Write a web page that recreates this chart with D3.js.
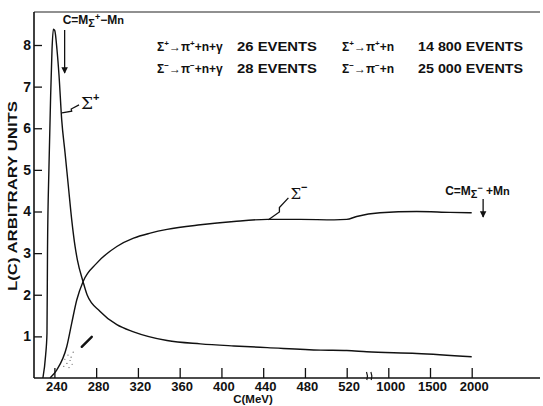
<!DOCTYPE html>
<html><head><meta charset="utf-8">
<script src="https://cdn.jsdelivr.net/npm/d3@7"></script>
<style>
body{margin:0;background:#fff}
svg{display:block}
text{font-family:"Liberation Sans",Arial,sans-serif;font-weight:bold;fill:#111}
</style>
</head><body>
<svg id="chart" width="543" height="406"></svg>
<script>
// ---------- data ----------
const xTicks = [240, 280, 320, 360, 400, 440, 480, 520, 1000, 1500, 2000];
const yTicks = [1, 2, 3, 4, 5, 6, 7, 8];

// Sigma+ curve  (C in MeV, L in arbitrary units)
const sigmaPlusC = [229, 231.6, 232.9, 233.4, 234.8, 236.3, 237.7, 239.0, 240.3, 242.5, 244.4, 247.0, 250.2, 253.4, 256.6, 259.8, 262.0, 267.5, 271.3, 283.8, 299.8, 315.8, 347.9, 379.9, 411.9, 443.9, 495, 520, 751, 1341, 2000];
const sigmaPlusL = [0, 0.55, 1.08, 3.08, 5.07, 6.68, 7.88, 8.38, 8.35, 7.88, 7.28, 6.2, 5.41, 4.6, 3.8, 3.16, 2.84, 2.31, 2.0, 1.6, 1.28, 1.11, 0.9, 0.82, 0.77, 0.73, 0.67, 0.66, 0.63, 0.59, 0.51];

// Sigma- curve
const sigmaMinusC = [235.8, 242.2, 251.8, 256.6, 261.4, 267.5, 280.6, 299.8, 315.8, 331.8, 347.9, 379.9, 411.9, 443.9, 475.4, 507.9, 520, 635, 904, 1341, 1740, 2000];
const sigmaMinusL = [0, 0.19, 0.75, 1.32, 1.875, 2.32, 2.76, 3.16, 3.36, 3.48, 3.57, 3.68, 3.76, 3.81, 3.81, 3.80, 3.81, 3.88, 3.97, 4.0, 3.98, 3.97];

// legend rows
const legendDecay = [["Σ", "+", "→π", "+", "+n+γ"], ["Σ", "−", "→π", "−", "+n+γ"]];
const legendRadEvents = ["26 EVENTS", "28 EVENTS"];
const legendMainDecay = [["Σ", "+", "→π", "+", "+n"], ["Σ", "−", "→π", "−", "+n"]];
const legendMainEvents = ["14 800 EVENTS", "25 000 EVENTS"];

// thresholds (MeV)
const thresholdPlus = 249.8;   // M(Σ+) − M(n)
const thresholdMinus = 2137;   // M(Σ−) + M(n)

// small hand marks near the origin (C, L)
const dashMarkC = [266.2, 275.8], dashMarkL = [0.75, 0.99];
const dotMarkC = [250, 253, 256, 252, 255, 258, 249, 254, 257];
const dotMarkL = [0.45, 0.55, 0.5, 0.35, 0.42, 0.62, 0.28, 0.25, 0.33];

// ---------- scales ----------
const svg = d3.select("#chart");
const x = d3.scaleLinear().domain([240, 520, 1000, 2000]).range([54.4, 346.7, 388.3, 471.7]);
const y = d3.scaleLinear().domain([0, 8]).range([378, 45]);
const xLeft = 34, xRight = 540, yTop = 12;

// frame
svg.append("line").attr("x1", xLeft).attr("x2", xRight).attr("y1", yTop).attr("y2", yTop)
  .attr("stroke", "#222").attr("stroke-width", 1.2);
svg.append("line").attr("x1", xLeft).attr("x2", xLeft).attr("y1", yTop).attr("y2", y(0))
  .attr("stroke", "#111").attr("stroke-width", 1.6);
svg.append("line").attr("x1", xLeft).attr("x2", xRight).attr("y1", y(0)).attr("y2", y(0))
  .attr("stroke", "#111").attr("stroke-width", 1.6);

// x axis
const gx = svg.append("g").attr("transform", `translate(0,${y(0)})`)
  .call(d3.axisBottom(x).tickValues(xTicks).tickFormat(d3.format("d")).tickSizeInner(-10).tickSizeOuter(0).tickPadding(4));
gx.select(".domain").remove();
gx.selectAll(".tick line").attr("stroke", "#111").attr("stroke-width", 1.3);
gx.selectAll(".tick text").attr("font-size", 13).attr("dx", 2).attr("fill", "#111")
  .style("font-family", '"Liberation Sans",Arial,sans-serif').style("font-weight", "bold");

// axis break marks
const brk = (x(520) + x(1000)) / 2 + 2;
[-2.2, 2.2].forEach(o => {
  svg.append("path").attr("d", `M${brk + o - 0.8},${y(0) - 6} Q${brk + o + 1},${y(0) - 2} ${brk + o - 0.5},${y(0) + 2}`)
    .attr("fill", "none").attr("stroke", "#111").attr("stroke-width", 1.2);
});

// y axis
const gy = svg.append("g").attr("transform", `translate(${xLeft},0)`)
  .call(d3.axisLeft(y).tickValues(yTicks).tickFormat(d3.format("d")).tickSizeInner(-8).tickSizeOuter(0).tickPadding(3));
gy.select(".domain").remove();
gy.selectAll(".tick line").attr("stroke", "#111").attr("stroke-width", 1.3);
gy.selectAll(".tick text").attr("font-size", 14).attr("fill", "#111")
  .style("font-family", '"Liberation Sans",Arial,sans-serif').style("font-weight", "bold");

// axis titles
svg.append("text").attr("x", 253).attr("y", 402.5).attr("text-anchor", "middle")
  .attr("font-size", 11.5).text("C(MeV)");
svg.append("text").attr("transform", "translate(17,196) rotate(-90)").attr("text-anchor", "middle")
  .attr("font-size", 13).attr("textLength", 190).attr("lengthAdjust", "spacingAndGlyphs")
  .text("L(C) ARBITRARY UNITS");

// curves
const line = d3.line().x(d => x(d[0])).y(d => y(d[1])).curve(d3.curveMonotoneX);
svg.append("path").datum(d3.zip(sigmaPlusC, sigmaPlusL)).attr("d", line)
  .attr("fill", "none").attr("stroke", "#111").attr("stroke-width", 1.4);
svg.append("path").datum(d3.zip(sigmaMinusC, sigmaMinusL)).attr("d", line)
  .attr("fill", "none").attr("stroke", "#111").attr("stroke-width", 1.4);

// hand marks
svg.append("line").attr("x1", x(dashMarkC[0])).attr("y1", y(dashMarkL[0]))
  .attr("x2", x(dashMarkC[1])).attr("y2", y(dashMarkL[1]))
  .attr("stroke", "#111").attr("stroke-width", 2.4).attr("stroke-linecap", "round");
svg.selectAll(".dot").data(d3.zip(dotMarkC, dotMarkL)).join("circle")
  .attr("cx", d => x(d[0])).attr("cy", d => y(d[1])).attr("r", 0.6).attr("fill", "#555");

// zigzag pointer helper
function zig(x0, y0, x1, y1) {
  const mx = x0 + (x1 - x0) * 0.45, my = y0 + (y1 - y0) * 0.45;
  const nx = x0 + (x1 - x0) * 0.6, ny = y0 + (y1 - y0) * 0.6;
  return `M${x0},${y0} L${mx + 2},${my + 2} L${nx - 1},${ny + 1} L${x1},${y1}`;
}
// Sigma+ label
const spx = x(247.3), spy = y(6.37);
svg.append("path").attr("d", zig(spx, spy, spx + 17, spy - 8)).attr("fill", "none")
  .attr("stroke", "#111").attr("stroke-width", 1.3);
const lp = svg.append("text").attr("x", spx + 19).attr("y", spy - 4).attr("font-size", 17)
  .style("font-family", '"DejaVu Serif",serif').style("font-weight", "normal");
lp.append("tspan").text("Σ");
lp.append("tspan").attr("font-size", 11).attr("dy", -8).style("font-family", '"Liberation Sans",Arial,sans-serif').style("font-weight", "bold").text("+");

// Sigma- label
const smx = x(445), smy = y(3.8);
svg.append("path").attr("d", zig(smx, smy, smx + 20, smy - 22)).attr("fill", "none")
  .attr("stroke", "#111").attr("stroke-width", 1.3);
const lm = svg.append("text").attr("x", smx + 22).attr("y", smy - 21).attr("font-size", 15)
  .style("font-family", '"DejaVu Serif",serif').style("font-weight", "normal");
lm.append("tspan").text("Σ");
lm.append("tspan").attr("font-size", 11).attr("dy", -8).style("font-family", '"Liberation Sans",Arial,sans-serif').style("font-weight", "bold").text("−");

// arrow head marker
svg.append("defs").append("marker").attr("id", "ah").attr("viewBox", "0 0 10 10")
  .attr("refX", 9).attr("refY", 5).attr("markerWidth", 5).attr("markerHeight", 7).attr("orient", "auto")
  .append("path").attr("d", "M0,0 L10,5 L0,10 z").attr("fill", "#111");

// threshold C = MΣ+ − Mn
const tpx = x(thresholdPlus);
svg.append("line").attr("x1", tpx).attr("x2", tpx).attr("y1", 30).attr("y2", 73)
  .attr("stroke", "#111").attr("stroke-width", 1.3).attr("marker-end", "url(#ah)");
const t1 = svg.append("text").attr("x", tpx - 2).attr("y", 24).attr("font-size", 12);
t1.append("tspan").text("C=M");
t1.append("tspan").attr("dy", 3).attr("font-size", 11).text("Σ");
t1.append("tspan").attr("dy", -7).attr("font-size", 9).text("+");
t1.append("tspan").attr("dy", 4).text("−M");
t1.append("tspan").attr("font-size", 11).text("n");

// threshold C = MΣ− + Mn
const tmx = x(thresholdMinus);
svg.append("line").attr("x1", tmx).attr("x2", tmx).attr("y1", 199).attr("y2", 217)
  .attr("stroke", "#111").attr("stroke-width", 1.3).attr("marker-end", "url(#ah)");
const t2 = svg.append("text").attr("x", tmx - 38).attr("y", 195).attr("font-size", 12);
t2.append("tspan").text("C=M");
t2.append("tspan").attr("dy", 3).attr("font-size", 11).text("Σ");
t2.append("tspan").attr("dy", -7).attr("font-size", 9).text("−");
t2.append("tspan").attr("dy", 4).text(" +M");
t2.append("tspan").attr("font-size", 11).text("n");

// legend
function decayText(xp, yp, parts) {
  const t = svg.append("text").attr("x", xp).attr("y", yp).attr("font-size", 12);
  t.append("tspan").text(parts[0]);
  t.append("tspan").attr("dy", -5).attr("font-size", 8).text(parts[1]);
  t.append("tspan").attr("dy", 5).text(parts[2]);
  t.append("tspan").attr("dy", -5).attr("font-size", 8).text(parts[3]);
  t.append("tspan").attr("dy", 5).text(parts[4]);
}
const rowY = [51, 73];
rowY.forEach((ry, i) => {
  decayText(157, ry, legendDecay[i]);
  svg.append("text").attr("x", 237).attr("y", ry).attr("font-size", 13)
    .attr("textLength", 80).attr("lengthAdjust", "spacingAndGlyphs").text(legendRadEvents[i]);
  decayText(342, ry, legendMainDecay[i]);
  svg.append("text").attr("x", 418).attr("y", ry).attr("font-size", 13)
    .attr("textLength", 105).attr("lengthAdjust", "spacingAndGlyphs").text(legendMainEvents[i]);
});
</script>
</body></html>
